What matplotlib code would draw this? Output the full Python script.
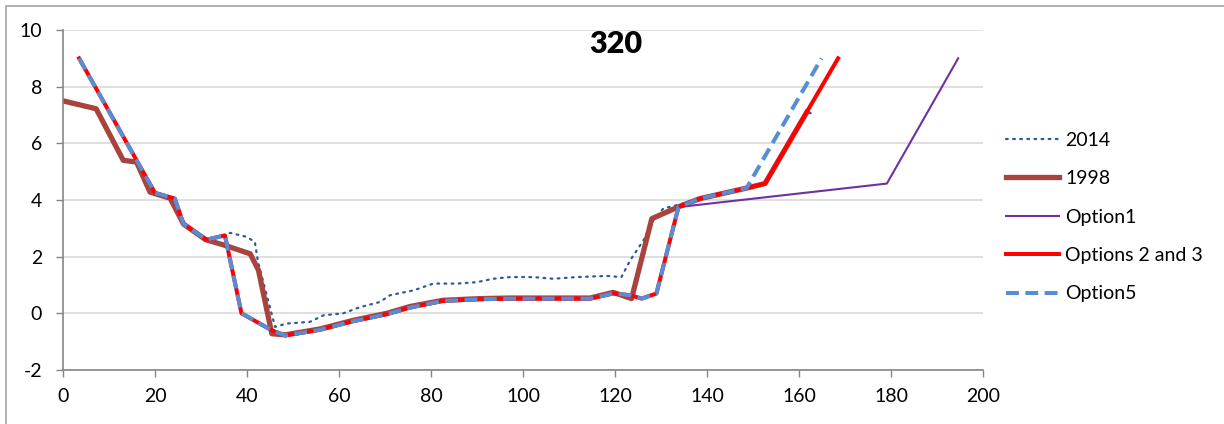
import matplotlib
matplotlib.use("Agg")
import matplotlib.pyplot as plt
from matplotlib.patches import Rectangle

plt.rcParams['font.family'] = ['Lato', 'DejaVu Sans']

# Cross-section profiles (chainage, elevation)
x_2014 = [0, 7.2, 13.1, 16, 18.9, 24.3, 26.2, 31.2, 35.2, 36.3, 39.9, 41.7, 42.4, 46.1, 48.6,
          53.7, 56.6, 60.9, 64.6, 68.9, 71.1, 76.2, 80.5, 85.6, 90, 93.5, 97.2, 102.2, 106.6,
          111.7, 118.2, 121.4, 123.3, 126.2, 128.3, 130.5, 133, 138.5, 148.6, 152.6, 161.7, 162.6]
y_2014 = [7.45, 7.18, 5.38, 5.3, 4.28, 4.05, 3.15, 2.6, 2.75, 2.84, 2.7, 2.52, 1.81, -0.48, -0.36,
          -0.3, -0.07, 0.0, 0.22, 0.4, 0.64, 0.81, 1.05, 1.05, 1.1, 1.22, 1.28, 1.28, 1.22,
          1.28, 1.32, 1.28, 1.87, 2.58, 3.28, 3.7, 3.8, 4.05, 4.4, 4.58, 7.1, 7.06]

x_1998 = [0, 7.2, 13.1, 16, 18.9, 23.3, 26.2, 31.0, 35.2, 40.7, 42.5, 45.4, 48.3, 55.9, 63,
          70.4, 75.4, 82.6, 90.7, 97.2, 114.6, 119.6, 123.6, 128, 134.1, 138.5, 148.6, 152.6, 161.7]
y_1998 = [7.5, 7.22, 5.4, 5.34, 4.28, 4.06, 3.15, 2.6, 2.4, 2.1, 1.52, -0.72, -0.76, -0.55, -0.25,
          0.0, 0.24, 0.46, 0.52, 0.54, 0.54, 0.74, 0.52, 3.34, 3.78, 4.05, 4.42, 4.58, 7.1]

x_opt1 = [3.5, 20, 24.3, 26.2, 31.2, 35.2, 38.8, 45.4, 48.3, 55.9, 63, 70.4, 75.4, 82.6, 90.7,
          97.2, 114.6, 119.6, 123.3, 125.8, 129, 133.8, 179.1, 194.6]
y_opt1 = [9.0, 4.25, 4.05, 3.15, 2.6, 2.75, 0.0, -0.6, -0.78, -0.58, -0.28, -0.03, 0.2, 0.44, 0.5,
          0.52, 0.52, 0.7, 0.64, 0.52, 0.7, 3.75, 4.58, 9.0]

x_opt23 = [3.5, 20, 24.3, 26.2, 31.2, 35.2, 38.8, 45.4, 48.3, 55.9, 63, 70.4, 75.4, 82.6, 90.7,
           97.2, 114.6, 119.6, 123.3, 125.8, 129, 133.8, 138.5, 148.6, 152.6, 168.5]
y_opt23 = [9.0, 4.25, 4.05, 3.15, 2.6, 2.75, 0.0, -0.6, -0.78, -0.58, -0.28, -0.03, 0.2, 0.44, 0.5,
           0.52, 0.52, 0.7, 0.64, 0.52, 0.7, 3.75, 4.05, 4.42, 4.58, 9.0]

x_opt5 = [3.5, 20, 24.3, 26.2, 31.2, 35.2, 38.8, 45.4, 48.3, 55.9, 63, 70.4, 75.4, 82.6, 90.7,
          97.2, 114.6, 119.6, 123.3, 125.8, 129, 133.8, 138.5, 148.6, 164.9]
y_opt5 = [9.0, 4.25, 4.05, 3.15, 2.6, 2.75, 0.0, -0.6, -0.78, -0.58, -0.28, -0.03, 0.2, 0.44, 0.5,
          0.52, 0.52, 0.7, 0.64, 0.52, 0.7, 3.75, 4.05, 4.42, 9.0]

x_ticks = [0, 20, 40, 60, 80, 100, 120, 140, 160, 180, 200]
y_ticks = [-2, 0, 2, 4, 6, 8, 10]
chart_title = "320"

W, H = 1224, 424
fig = plt.figure(figsize=(W / 100, H / 100), dpi=100)
ax = fig.add_axes([63 / W, 1 - 370 / H, (983 - 63) / W, (370 - 30) / H])

# chart-area frame
fig.patches.append(Rectangle((6 / W, -0.05), 1.1, 1 - 6 / H + 0.05, transform=fig.transFigure,
                             fill=False, edgecolor='#A6A6A6', linewidth=1.2))

ax.plot(x_2014, y_2014, color='#2E5A98', lw=1.6, linestyle=(0, (0.8, 2.4)),
        dash_capstyle='round', label='2014')
ax.plot(x_1998, y_1998, color='#A8433E', lw=3.8, solid_joinstyle='round', label='1998')
ax.plot(x_opt1, y_opt1, color='#7030A0', lw=1.5, label='Option1')
ax.plot(x_opt23, y_opt23, color='#FF0000', lw=2.9, solid_joinstyle='round', label='Options 2 and 3')
ax.plot(x_opt5, y_opt5, color='#558ED5', lw=2.9, linestyle=(0, (3.2, 1.6)), label='Option5')

ax.set_xlim(0, 200)
ax.set_ylim(-2, 10)
ax.set_xticks(x_ticks)
ax.set_yticks(y_ticks)
ax.set_xticklabels([str(v) for v in x_ticks])
ax.set_yticklabels([str(v) for v in y_ticks])
ax.tick_params(axis='both', direction='out', length=5, width=1, color='#868686',
               labelsize=14, labelcolor='black')
ax.tick_params(axis='x', pad=8)
ax.tick_params(axis='y', pad=10)
for s in ['top', 'right']:
    ax.spines[s].set_visible(False)
for s in ['left', 'bottom']:
    ax.spines[s].set_color('#868686')
    ax.spines[s].set_linewidth(1.2)
ax.yaxis.grid(True, color='#D9D9D9', linewidth=1.2)
ax.set_axisbelow(True)

fig.text(616 / W, 1 - 44 / H, chart_title, ha='center', va='center',
         fontsize=22, fontweight='heavy')

fig.legend(loc='upper left', bbox_to_anchor=(998 / W, 1 - 124 / H), frameon=False,
           fontsize=14, handlelength=2.75, handletextpad=0.3, labelspacing=1.1,
           borderaxespad=0)

fig.savefig('out.png', dpi=100)
